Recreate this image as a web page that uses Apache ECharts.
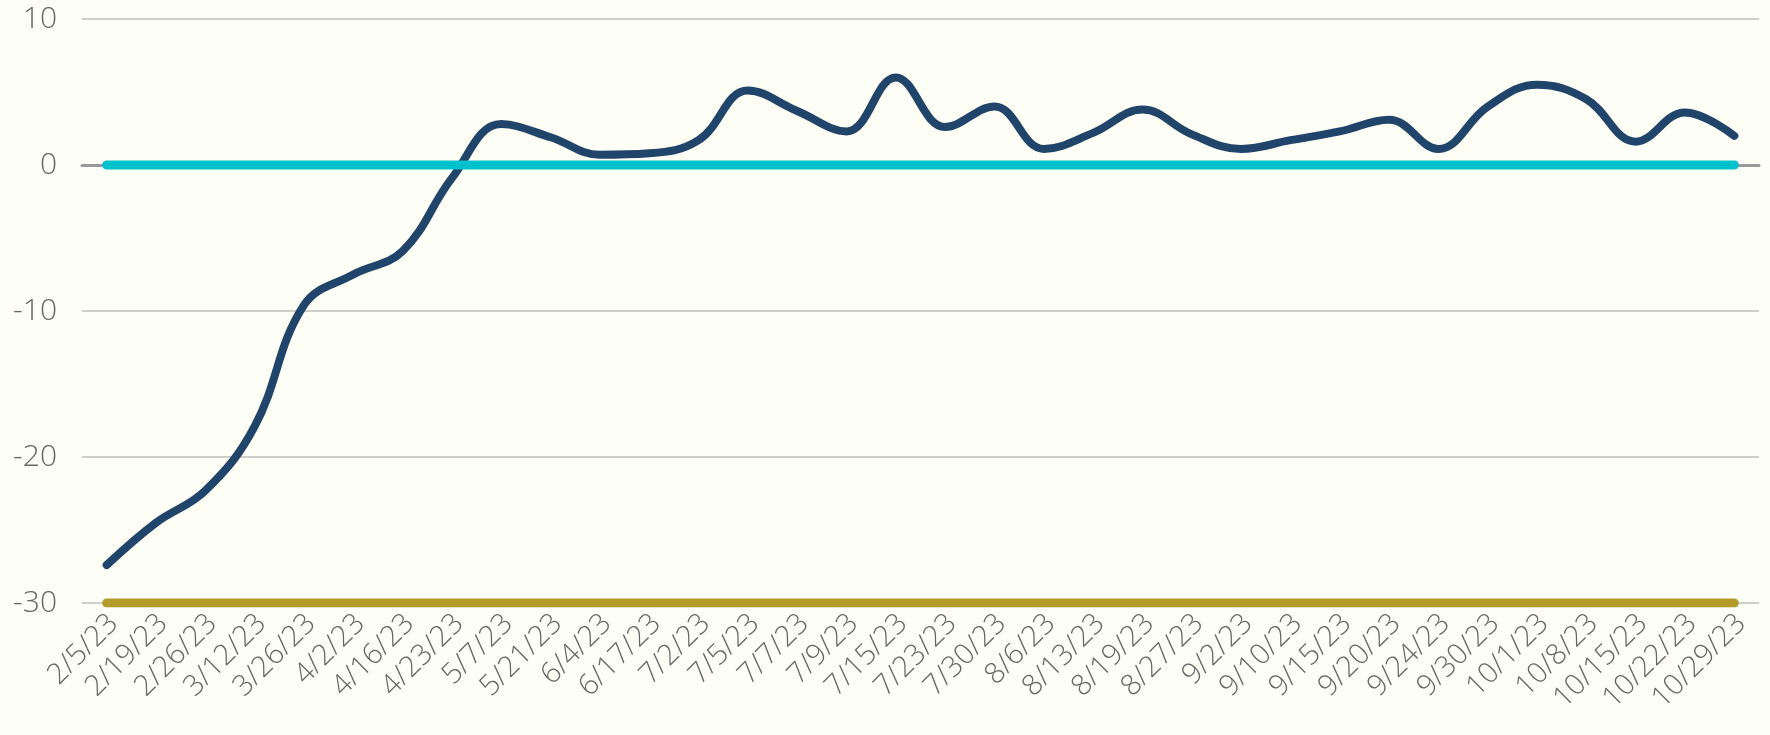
<!DOCTYPE html>
<html>
<head>
<meta charset="utf-8">
<script src="https://cdn.jsdelivr.net/npm/echarts@6/dist/echarts.min.js"></script>
<style>
  html, body { margin: 0; padding: 0; background: #FDFEF5; }
  #chart { width: 1770px; height: 735px; }
</style>
</head>
<body>
<div id="chart"></div>
<script>
const categories = ['2/5/23','2/19/23','2/26/23','3/12/23','3/26/23','4/2/23','4/16/23','4/23/23','5/7/23','5/21/23','6/4/23','6/17/23','7/2/23','7/5/23','7/7/23','7/9/23','7/15/23','7/23/23','7/30/23','8/6/23','8/13/23','8/19/23','8/27/23','9/2/23','9/10/23','9/15/23','9/20/23','9/24/23','9/30/23','10/1/23','10/8/23','10/15/23','10/22/23','10/29/23'];
const mainValues = [-27.4, -24.5, -22.3, -17.9, -9.6, -7.5, -5.9, -0.9, 2.8, 1.9, 0.7, 0.8, 1.7, 5.1, 3.7, 2.3, 6.0, 2.6, 4.0, 1.1, 2.2, 3.8, 2.1, 1.1, 1.7, 2.3, 3.1, 1.1, 4.0, 5.5, 4.5, 1.6, 3.6, 2.0];
const zeroValues = [0,0,0,0,0,0,0,0,0,0,0,0,0,0,0,0,0,0,0,0,0,0,0,0,0,0,0,0,0,0,0,0,0,0];
const floorValues = [-30,-30,-30,-30,-30,-30,-30,-30,-30,-30,-30,-30,-30,-30,-30,-30,-30,-30,-30,-30,-30,-30,-30,-30,-30,-30,-30,-30,-30,-30,-30,-30,-30,-30];
const yTicks = { min: -30, max: 10, interval: 10 };

const chart = echarts.init(document.getElementById('chart'), null, { renderer: 'canvas' });
const fontFamily = '"Open Sans", "Noto Sans", sans-serif';
chart.setOption({
  animation: false,
  backgroundColor: '#FDFEF5',
  grid: { left: 82, right: 11, top: 19, bottom: 132, containLabel: false },
  xAxis: {
    type: 'category',
    data: categories,
    boundaryGap: true,
    axisLine: { show: true, onZero: true, lineStyle: { color: '#999999', width: 3 } },
    axisTick: { show: false },
    axisLabel: {
      show: true, interval: 0, rotate: 45, margin: 9,
      verticalAlign: 'top', lineHeight: 20,
      color: '#666666', fontSize: 29, fontFamily: fontFamily, fontWeight: 300
    },
    splitLine: { show: false }
  },
  yAxis: {
    type: 'value',
    min: yTicks.min, max: yTicks.max, interval: yTicks.interval,
    axisLine: { show: false },
    axisTick: { show: false },
    axisLabel: { margin: 25, color: '#666666', fontSize: 30, fontFamily: fontFamily, fontWeight: 300 },
    splitLine: { show: true, lineStyle: { color: '#CFCFC9', width: 2 } }
  },
  series: [
    {
      name: 'main', type: 'line', data: mainValues, smooth: 0.4,
      showSymbol: false, symbol: 'none', z: 2,
      lineStyle: { color: '#21456A', width: 8, cap: 'round', join: 'round' }
    },
    {
      name: 'zero', type: 'line', data: zeroValues,
      showSymbol: false, symbol: 'none', z: 3,
      lineStyle: { color: '#00C1CC', width: 9, cap: 'round' }
    },
    {
      name: 'floor', type: 'line', data: floorValues,
      showSymbol: false, symbol: 'none', z: 3,
      lineStyle: { color: '#B39C2C', width: 9, cap: 'round' }
    }
  ]
});
</script>
</body>
</html>
